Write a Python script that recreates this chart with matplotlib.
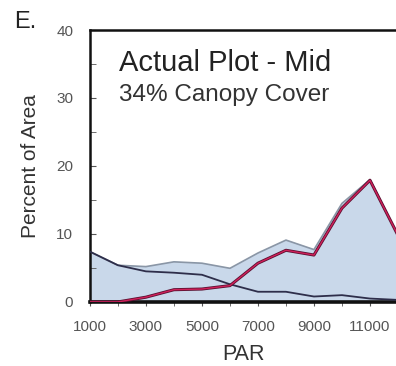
import matplotlib.pyplot as plt
import numpy as np

plt.rcParams['font.family'] = ['Liberation Sans', 'DejaVu Sans']

par = [1000, 2000, 3000, 4000, 5000, 6000, 7000, 8000, 9000, 10000, 11000, 12000]
total = [7.4, 5.4, 5.2, 5.9, 5.7, 4.95, 7.2, 9.1, 7.7, 14.5, 18.0, 9.8]
upper = [0.0, 0.0, 0.7, 1.8, 1.9, 2.4, 5.7, 7.6, 6.9, 13.8, 17.9, 9.8]
lower = [7.4, 5.4, 4.5, 4.3, 4.0, 2.6, 1.5, 1.5, 0.8, 1.0, 0.5, 0.3]

fig = plt.figure(figsize=(3.96, 3.66), dpi=100)
ax = fig.add_axes([0.227, 0.175, 0.778, 0.743])

ax.fill_between(par, 0, total, color="#c9d8ea", zorder=1)
ax.plot(par, total, color="#8a96a6", lw=1.2, zorder=2)
ax.plot(par, lower, color="#2e2e4a", lw=1.3, zorder=3)
ax.plot(par, upper, color="#5a1030", lw=2.2, zorder=4)
ax.plot(par, upper, color="#d0205a", lw=1.0, zorder=5)

ax.set_xlim(1000, 12000)
ax.set_ylim(0, 40)
ax.set_xticks(range(1000, 12001, 2000))
ax.set_xticks(range(1000, 12001, 1000), minor=True)
ax.set_yticks(range(0, 41, 10))
ax.set_yticks(range(0, 41, 5), minor=True)
ax.tick_params(axis="y", which="both", direction="in", length=4, colors="#555555",
               labelsize=11, pad=12)
ax.tick_params(axis="x", which="both", direction="out", length=3, colors="#555555",
               labelsize=11, pad=10)
for s in ax.spines.values():
    s.set_linewidth(1.8)
    s.set_color("#111111")
ax.spines["bottom"].set_linewidth(2.6)

ax.set_xlabel("PAR", fontsize=15.5, color="#333333", labelpad=7)
ax.set_ylabel("Percent of Area", fontsize=15, color="#333333", labelpad=12)

ax.text(0.095, 0.85, "Actual Plot - Mid", transform=ax.transAxes, fontsize=21,
        color="#222222")
ax.text(0.095, 0.74, "34% Canopy Cover", transform=ax.transAxes, fontsize=17.5,
        color="#333333")
fig.text(0.036, 0.923, "E.", fontsize=17, color="#222222")

fig.savefig("out.png", dpi=100)
